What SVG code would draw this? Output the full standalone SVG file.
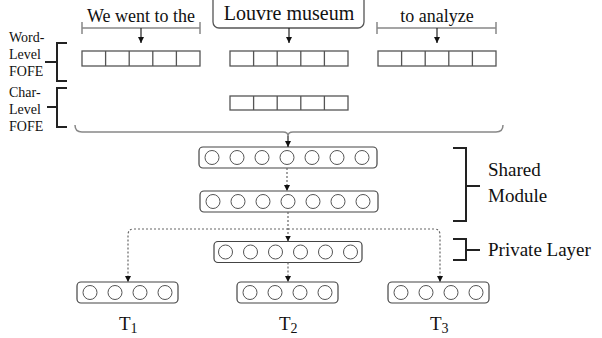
<svg xmlns="http://www.w3.org/2000/svg" width="602" height="338" viewBox="0 0 602 338">
<defs>
<style>
.cell{fill:#fff;stroke:#555;stroke-width:1.3}
.layer{fill:#fff;stroke:#444;stroke-width:1.2}
.n{fill:#fff;stroke:#555;stroke-width:1}
.tick{fill:none;stroke:#888;stroke-width:1.5}
.br{fill:none;stroke:#222;stroke-width:2}
.solid{fill:none;stroke:#222;stroke-width:1.2}
.dot{fill:none;stroke:#666;stroke-width:1.2;stroke-dasharray:2 2}
text{font-family:"Liberation Serif","Times New Roman",serif;fill:#111}
.lab{font-size:14px}
.big{font-size:19px}
</style>
<marker id="ah" markerUnits="userSpaceOnUse" markerWidth="7" markerHeight="7" refX="6" refY="3" orient="auto">
<path d="M0,0 L6,3 L0,6 z" fill="#111"/>
</marker>
</defs>
<rect width="602" height="338" fill="#fff"/>

<g id="word1">
<text x="141" y="22" font-size="18" text-anchor="middle">We went to the</text>
<path class="tick" d="M82,28 H200 M82,22 V34 M200,22 V34"/>
<rect class="cell" x="82" y="51" width="118" height="15"/>
<path class="cell" d="M105.6,51 V66 M129.2,51 V66 M152.8,51 V66 M176.4,51 V66"/>
</g>
<g id="word2">
<rect x="213" y="-8" width="151" height="36" rx="6" fill="#fff" stroke="#555" stroke-width="1.3"/>
<text x="289" y="20" font-size="20" text-anchor="middle">Louvre museum</text>
<rect class="cell" x="230" y="51" width="118" height="15"/>
<path class="cell" d="M253.6,51 V66 M277.2,51 V66 M300.8,51 V66 M324.4,51 V66"/>
</g>
<g id="word3">
<text x="437" y="22" font-size="18" text-anchor="middle">to analyze</text>
<path class="tick" d="M377,28 H496 M377,22 V34 M496,22 V34"/>
<rect class="cell" x="378" y="51" width="118" height="15"/>
<path class="cell" d="M401.6,51 V66 M425.2,51 V66 M448.8,51 V66 M472.4,51 V66"/>
</g>
<g id="char">
<rect class="cell" x="230" y="96" width="118" height="14"/>
<path class="cell" d="M253.6,96 V110 M277.2,96 V110 M300.8,96 V110 M324.4,96 V110"/>
</g>
<g id="word-label">
<text class="lab" x="9" y="42">Word-</text>
<text class="lab" x="9" y="59">Level</text>
<text class="lab" x="9" y="76">FOFE</text>
<path class="br" d="M67,43 H57 V81 H67 M57,62 H45"/>
</g>
<g id="char-label">
<text class="lab" x="9" y="97">Char-</text>
<text class="lab" x="9" y="114">Level</text>
<text class="lab" x="9" y="131">FOFE</text>
<path class="br" d="M67,88 H57 V127 H67 M57,107 H47"/>
</g>
<g id="brace">
<path d="M75,125 Q75,132 82,132 H283 Q288,132 288,136 Q288,132 293,132 H496 Q503,132 503,125" fill="none" stroke="#888" stroke-width="1.5"/>
</g>

<g id="shared1">
<rect class="layer" x="199" y="147" width="178" height="21" rx="4"/>
<circle class="n" cx="212" cy="157.5" r="7"/><circle class="n" cx="237" cy="157.5" r="7"/><circle class="n" cx="262" cy="157.5" r="7"/><circle class="n" cx="287" cy="157.5" r="7"/><circle class="n" cx="312" cy="157.5" r="7"/><circle class="n" cx="337" cy="157.5" r="7"/><circle class="n" cx="362" cy="157.5" r="7"/>
</g>
<g id="shared2">
<rect class="layer" x="200" y="191" width="178" height="21" rx="4"/>
<circle class="n" cx="213" cy="201.5" r="7"/><circle class="n" cx="238" cy="201.5" r="7"/><circle class="n" cx="263" cy="201.5" r="7"/><circle class="n" cx="288" cy="201.5" r="7"/><circle class="n" cx="313" cy="201.5" r="7"/><circle class="n" cx="338" cy="201.5" r="7"/><circle class="n" cx="363" cy="201.5" r="7"/>
</g>
<g id="private">
<rect class="layer" x="214" y="241.5" width="148" height="21" rx="4"/>
<circle class="n" cx="225.5" cy="252" r="7"/><circle class="n" cx="250.5" cy="252" r="7"/><circle class="n" cx="275.5" cy="252" r="7"/><circle class="n" cx="300.5" cy="252" r="7"/><circle class="n" cx="325.5" cy="252" r="7"/><circle class="n" cx="350.5" cy="252" r="7"/>
</g>
<g id="t1">
<rect class="layer" x="77" y="282" width="101" height="21" rx="4"/>
<circle class="n" cx="90" cy="292.5" r="7"/><circle class="n" cx="115" cy="292.5" r="7"/><circle class="n" cx="140" cy="292.5" r="7"/><circle class="n" cx="165" cy="292.5" r="7"/>
<text class="big" x="119" y="330">T<tspan font-size="14" dy="3">1</tspan></text>
</g>
<g id="t2">
<rect class="layer" x="237" y="282" width="101" height="21" rx="4"/>
<circle class="n" cx="250" cy="292.5" r="7"/><circle class="n" cx="275" cy="292.5" r="7"/><circle class="n" cx="300" cy="292.5" r="7"/><circle class="n" cx="325" cy="292.5" r="7"/>
<text class="big" x="279" y="330">T<tspan font-size="14" dy="3">2</tspan></text>
</g>
<g id="t3">
<rect class="layer" x="388" y="282" width="101" height="21" rx="4"/>
<circle class="n" cx="401" cy="292.5" r="7"/><circle class="n" cx="426" cy="292.5" r="7"/><circle class="n" cx="451" cy="292.5" r="7"/><circle class="n" cx="476" cy="292.5" r="7"/>
<text class="big" x="430" y="330">T<tspan font-size="14" dy="3">3</tspan></text>
</g>
<g id="shared-label">
<path class="br" d="M453,148 H466 V221 H453 M466,186 H480"/>
<text class="big" x="488" y="176">Shared</text>
<text class="big" x="488" y="202">Module</text>
</g>
<g id="private-label">
<path class="br" d="M453,239 H466 V260 H453 M466,250 H480"/>
<text class="big" x="488" y="256">Private Layer</text>
</g>

<g id="connectors">
<path class="solid" d="M141,28 V43" marker-end="url(#ah)"/>
<path class="solid" d="M289,28 V43" marker-end="url(#ah)"/>
<path class="solid" d="M437,28 V43" marker-end="url(#ah)"/>
<path class="solid" d="M288,136 V147" marker-end="url(#ah)"/>
<path class="dot" d="M287,168 V191" marker-end="url(#ah)"/>
<path class="dot" d="M288,212 V241.5" marker-end="url(#ah)"/>
<path class="dot" d="M288,229 H134 Q128,229 128,235 V282" marker-end="url(#ah)"/>
<path class="dot" d="M288,229 H434 Q440,229 440,235 V282" marker-end="url(#ah)"/>
<path class="dot" d="M288,262.5 V282" marker-end="url(#ah)"/>
</g>
</svg>
